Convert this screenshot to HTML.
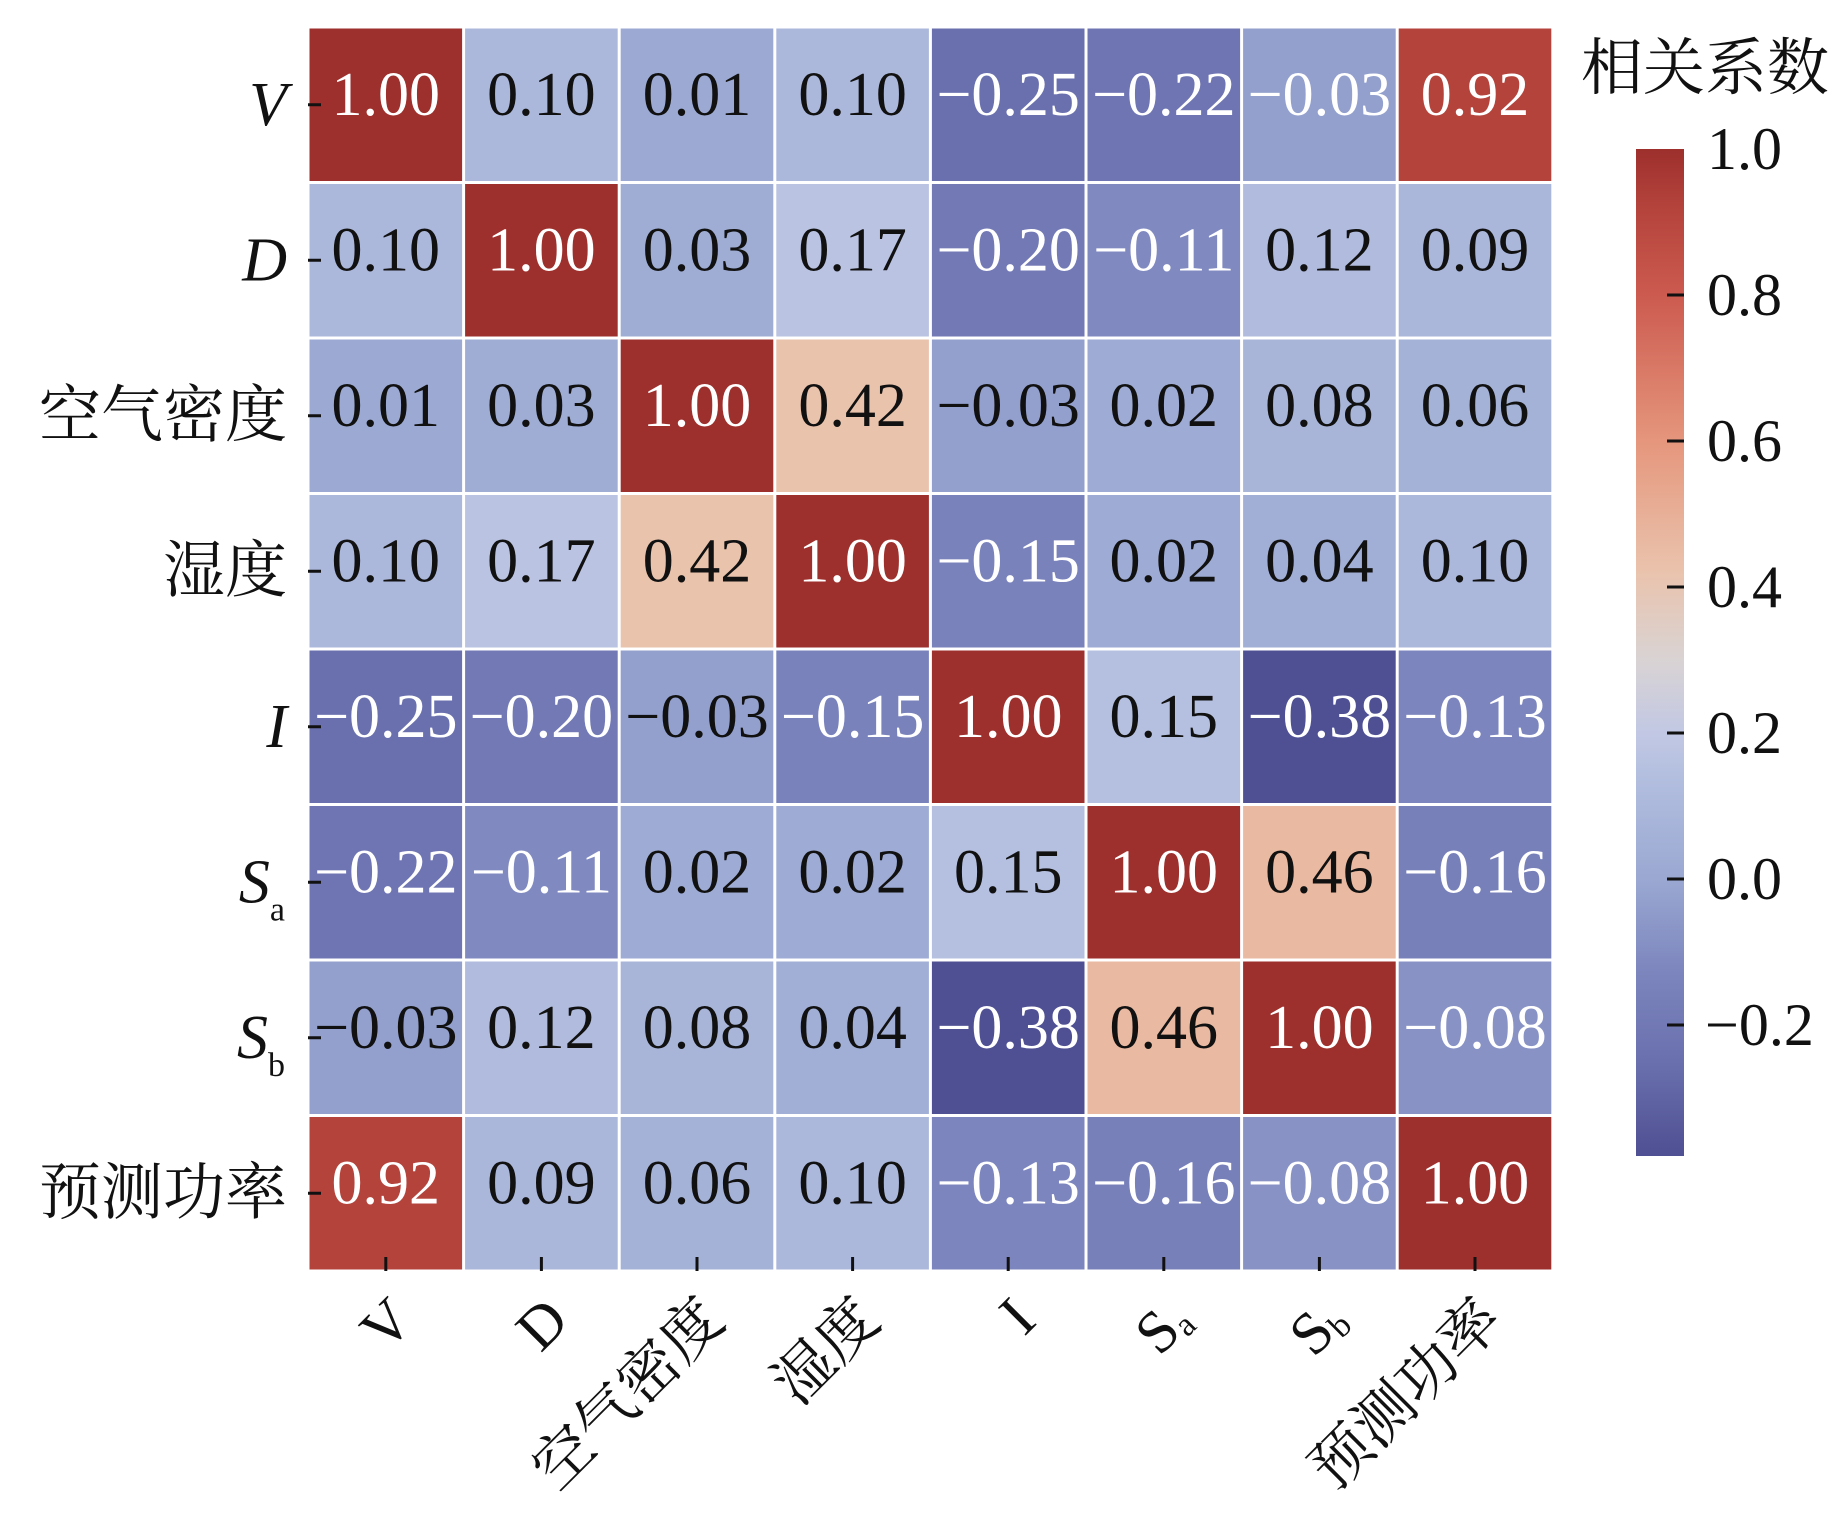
<!DOCTYPE html>
<html><head><meta charset="utf-8"><style>
html,body{margin:0;padding:0;background:#fff;}
svg{display:block;}
text{font-family:"Liberation Serif","Noto Serif CJK SC",serif;}
</style></head><body>
<svg id="s" width="1843" height="1518" xmlns="http://www.w3.org/2000/svg">
<defs>
<linearGradient id="cb" x1="0" y1="1" x2="0" y2="0">
<stop offset="0" stop-color="#4f4f93"/>
<stop offset="0.094" stop-color="#6a70ae"/>
<stop offset="0.181" stop-color="#7c85bd"/>
<stop offset="0.275" stop-color="#9aa8d2"/>
<stop offset="0.384" stop-color="#b5c0e0"/>
<stop offset="0.42" stop-color="#c2c8e4"/>
<stop offset="0.493" stop-color="#d9d3d3"/>
<stop offset="0.58" stop-color="#eac3ad"/>
<stop offset="0.71" stop-color="#e5967c"/>
<stop offset="0.855" stop-color="#cc5a4f"/>
<stop offset="0.942" stop-color="#b4433c"/>
<stop offset="1" stop-color="#9d2f2c"/>
</linearGradient>
</defs>
</svg>
<script>
var stops=[[-0.38,[79,79,147]],[-0.25,[106,112,174]],[-0.13,[124,133,189]],[0,[154,168,210]],[0.15,[181,192,224]],[0.2,[194,200,228]],[0.3,[217,211,211]],[0.42,[234,195,173]],[0.6,[229,150,124]],[0.8,[204,90,79]],[0.92,[180,67,60]],[1,[157,47,44]]];
function col(v){for(var i=0;i<stops.length-1;i++){var a=stops[i],b=stops[i+1];if(v<=b[0]){var t=(v-a[0])/(b[0]-a[0]);if(t<0)t=0;var c=a[1].map(function(x,k){return Math.round(x+(b[1][k]-x)*t)});return"rgb("+c.join(",")+")";}}return"rgb(157,47,44)";}
var M=[[1,0.10,0.01,0.10,-0.25,-0.22,-0.03,0.92],
[0.10,1,0.03,0.17,-0.20,-0.11,0.12,0.09],
[0.01,0.03,1,0.42,-0.03,0.02,0.08,0.06],
[0.10,0.17,0.42,1,-0.15,0.02,0.04,0.10],
[-0.25,-0.20,-0.03,-0.15,1,0.15,-0.38,-0.13],
[-0.22,-0.11,0.02,0.02,0.15,1,0.46,-0.16],
[-0.03,0.12,0.08,0.04,-0.38,0.46,1,-0.08],
[0.92,0.09,0.06,0.10,-0.13,-0.16,-0.08,1]];
var W=[[1,0,0,0,1,1,1,1],[0,1,0,0,1,1,0,0],[0,0,1,0,0,0,0,0],[0,0,0,1,1,0,0,0],[1,1,0,1,1,0,1,1],[1,1,0,0,0,1,0,1],[0,0,0,0,1,0,1,1],[1,0,0,0,1,1,1,1]];
var L=308,T=27,cw=155.6,ch=155.5;
var h='';
for(var r=0;r<8;r++)for(var c=0;c<8;c++){
var x=L+c*cw,y=T+r*ch,v=M[r][c];
h+='<rect x="'+(x+1.5)+'" y="'+(y+1.5)+'" width="'+(cw-3)+'" height="'+(ch-3)+'" fill="'+col(v)+'"/>';
var s=(v<0?'\u2212':'')+Math.abs(v).toFixed(2);
h+='<text x="'+(x+cw/2)+'" y="'+(y+ch/2+10)+'" font-size="62" text-anchor="middle" fill="'+(W[r][c]?'#fff':'#111')+'">'+s+'</text>';
}
for(var i=0;i<8;i++){
var cy=T+i*ch+ch/2, cx=L+i*cw+cw/2;
h+='<line x1="'+L+'" y1="'+cy+'" x2="'+(L+13)+'" y2="'+cy+'" stroke="#111" stroke-width="3"/>';
h+='<line x1="'+cx+'" y1="'+(T+8*ch)+'" x2="'+cx+'" y2="'+(T+8*ch-14)+'" stroke="#111" stroke-width="3"/>';
}
var yl=['<tspan font-style="italic">V</tspan>','<tspan font-style="italic">D</tspan>','空气密度','湿度','<tspan font-style="italic">I</tspan>','<tspan font-style="italic">S</tspan><tspan font-size="34" dy="18">a</tspan>','<tspan font-style="italic">S</tspan><tspan font-size="34" dy="18">b</tspan>','预测功率'];
for(var i=0;i<8;i++){
var cy=T+i*ch+ch/2+20, ex=(i==5||i==6)?285:287;
h+='<text x="'+ex+'" y="'+cy+'" font-size="62" text-anchor="end" fill="#111">'+yl[i]+'</text>';
}
var xl=['V','D','空气密度','湿度','I','S<tspan font-size="34" dy="6">a</tspan>','S<tspan font-size="34" dy="6">b</tspan>','预测功率'];
for(var i=0;i<8;i++){
var cx=L+i*cw+cw/2+30, yy=1323;
h+='<text transform="translate('+cx+','+yy+') rotate(-45)" font-size="60" text-anchor="end" fill="#111">'+xl[i]+'</text>';
}
h+='<rect x="1636" y="149" width="48" height="1007" fill="url(#cb)"/>';
var tv=[1.0,0.8,0.6,0.4,0.2,0.0,-0.2];
for(var i=0;i<tv.length;i++){
var y=149+i*146;
if(i>0)h+='<line x1="1667" y1="'+y+'" x2="1684" y2="'+y+'" stroke="#111" stroke-width="3"/>';
var s=(tv[i]<0?'\u2212':'')+Math.abs(tv[i]).toFixed(1);
h+='<text x="'+(tv[i]<0?1705:1707)+'" y="'+(y+20)+'" font-size="60" fill="#111">'+s+'</text>';
}
h+='<text x="1705" y="89" font-size="62" text-anchor="middle" fill="#111">相关系数</text>';
document.getElementById('s').insertAdjacentHTML('beforeend',h);
</script>
</body></html>
